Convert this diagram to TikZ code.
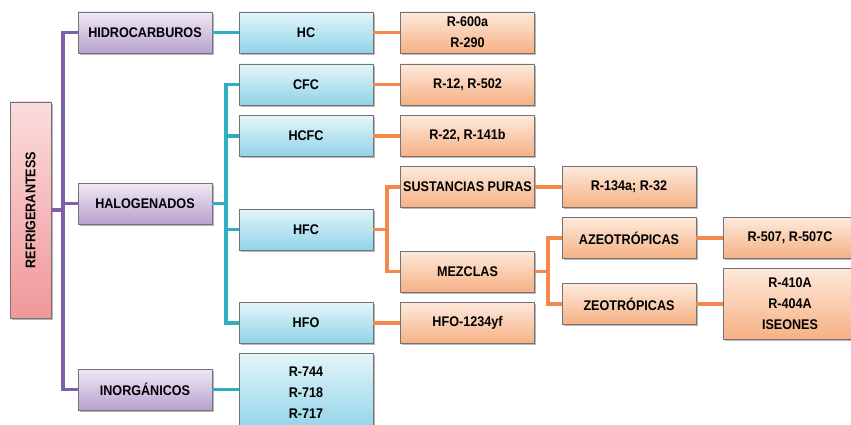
\documentclass[tikz,border=0pt]{standalone}
\usepackage{fontspec}
\setmainfont{Liberation Sans}[FakeStretch=0.9]
\usepackage{tikz}
\usepackage{xcolor}
\usetikzlibrary{shadows}

\definecolor{lineaMorada}{HTML}{7E60A8}
\definecolor{lineaAzul}{HTML}{2FAFC4}
\definecolor{lineaNaranja}{HTML}{F4884A}
\definecolor{rosaSup}{HTML}{FBDCDC}
\definecolor{rosaInf}{HTML}{F0979A}
\definecolor{moradaSup}{HTML}{F0E8F5}
\definecolor{moradaInf}{HTML}{B8A2CF}
\definecolor{azulSup}{HTML}{E4F5FA}
\definecolor{azulInf}{HTML}{90D3E8}
\definecolor{naranjaSup}{HTML}{FDEADC}
\definecolor{naranjaInf}{HTML}{F6B084}

\begin{document}
\begin{tikzpicture}[x=1pt, y=-1pt,
    caja/.style={draw=black!55, line width=0.6pt, minimum width=134pt,
      minimum height=41pt, inner sep=0pt, align=center,
      font=\fontsize{14}{21}\selectfont\bfseries,
      drop shadow={shadow xshift=1.5pt, shadow yshift=-1.8pt, opacity=0.4, fill=black!70}},
    rosa/.style={caja, top color=rosaSup, bottom color=rosaInf},
    morada/.style={caja, top color=moradaSup, bottom color=moradaInf},
    azul/.style={caja, top color=azulSup, bottom color=azulInf},
    naranja/.style={caja, top color=naranjaSup, bottom color=naranjaInf},
    conP/.style={lineaMorada, line width=3.5pt},
    conA/.style={lineaAzul, line width=3.5pt},
    conN/.style={lineaNaranja, line width=3.5pt}]
  \useasboundingbox (0,0) rectangle (851,425);
  % Raiz
  \node[rosa, minimum width=41pt, minimum height=216pt] (ref) at (30.5,210) {\rotatebox{90}{REFRIGERANTESS}};
  % Familias
  \node[morada] (hid) at (145,32.5) {HIDROCARBUROS};
  \node[morada] (hal) at (145,203.5) {HALOGENADOS};
  \node[morada] (ino) at (145,389.5) {INORGÁNICOS};
  % Tipos
  \node[azul] (hc) at (306,32.5) {HC};
  \node[azul] (cfc) at (306,84.5) {CFC};
  \node[azul] (hcfc) at (306,136) {HCFC};
  \node[azul] (hfc) at (306,229.5) {HFC};
  \node[azul] (hfo) at (306,323) {HFO};
  \node[azul, minimum height=79pt] (r744) at (306,392.5) {R-744\\R-718\\R-717};
  % Ejemplos y subtipos
  \node[naranja] (r600) at (467.5,32.5) {R-600a\\R-290};
  \node[naranja] (r12) at (467.5,84.5) {R-12, R-502};
  \node[naranja] (r22) at (467.5,136) {R-22, R-141b};
  \node[naranja] (sus) at (467.5,187) {SUSTANCIAS PURAS};
  \node[naranja] (mez) at (467.5,271.5) {MEZCLAS};
  \node[naranja] (r1234) at (467.5,323) {HFO-1234yf};
  \node[naranja] (r134) at (629,187) {R-134a; R-32};
  \node[naranja] (aze) at (629,238) {AZEOTRÓPICAS};
  \node[naranja] (zeo) at (629,304) {ZEOTRÓPICAS};
  \node[naranja] (r507) at (790,238) {R-507, R-507C};
  \node[naranja, minimum height=71pt] (r410) at (790,303.5) {R-410A\\R-404A\\ISEONES};
  % Troncos de las ramas
  \coordinate (tP) at (63,0);
  \coordinate (tA) at (226,0);
  \coordinate (tN) at (387,0);
  \coordinate (tM) at (548,0);
  % Conectores morados
  \draw[conP] (hid.west) -| (tP |- ino.west) -- (ino.west);
  \draw[conP] (ref.east) -- (ref.east -| tP);
  \draw[conP] (hal.west) -- (hal.west -| tP);
  % Conectores azules
  \draw[conA] (hid) -- (hc);
  \draw[conA] (ino.east) -- (ino.east -| r744.west);
  \draw[conA] (cfc.west) -| (tA |- hfo.west) -- (hfo.west);
  \draw[conA] (hcfc.west) -- (hcfc.west -| tA);
  \draw[conA] (hfc.west) -- (hfc.west -| tA);
  \draw[conA] (hal.east) -- (hal.east -| tA);
  % Conectores naranjas
  \draw[conN] (hc) -- (r600);
  \draw[conN] (cfc) -- (r12);
  \draw[conN] (hcfc) -- (r22);
  \draw[conN] (hfo) -- (r1234);
  \draw[conN] (hfc.east) -- (hfc.east -| tN);
  \draw[conN] (sus.west) -| (tN |- mez.west) -- (mez.west);
  \draw[conN] (sus) -- (r134);
  \draw[conN] (mez.east) -- (mez.east -| tM);
  \draw[conN] (aze.west) -| (tM |- zeo.west) -- (zeo.west);
  \draw[conN] (aze) -- (r507);
  \draw[conN] (zeo.east) -- (zeo.east -| r410.west);
\end{tikzpicture}
\end{document}
